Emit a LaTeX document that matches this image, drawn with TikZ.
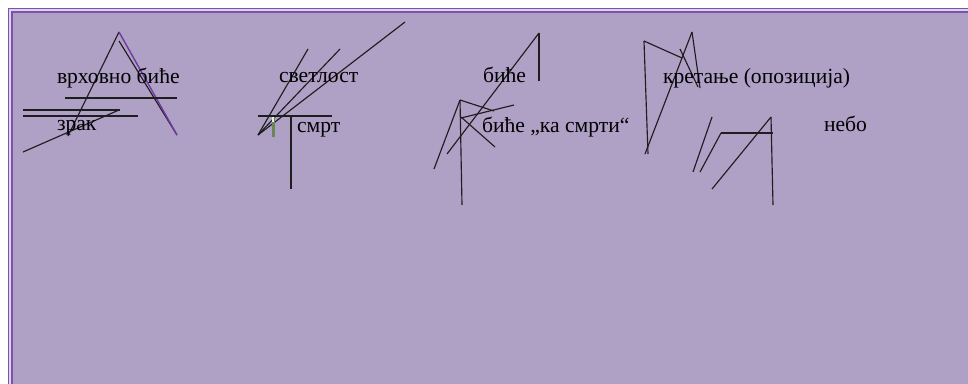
\documentclass[tikz,border=0pt]{standalone}
\usepackage{fontspec}
\setmainfont{Liberation Serif}
\definecolor{bgfill}{RGB}{175,160,198}
\definecolor{bordpurple}{RGB}{122,84,172}
\definecolor{bordlight}{RGB}{222,212,238}
\definecolor{strokepurple}{RGB}{110,60,160}
\definecolor{ink}{RGB}{30,30,30}
\definecolor{barGreen}{RGB}{105,135,85}
\begin{document}
\begin{tikzpicture}[x=1pt,y=-1pt,
  ln/.style={draw=ink,line width=1.15pt},
  lbl/.style={anchor=base west,inner sep=0pt,outer sep=0pt,font=\fontsize{21.6}{25}\selectfont,text=black}]
\useasboundingbox (0,0) rectangle (968,383);
\fill[white] (0,0) rectangle (968,383);
\fill[bordpurple] (8,8) rectangle (970,390);
\fill[bordlight] (9.3,9.3) rectangle (970,390);
\fill[bordpurple] (10.8,10.8) rectangle (970,390);
\fill[bgfill] (12.5,12.5) rectangle (970,390);

% group 1
\draw[ln] (119,32) -- (68,136);
\draw[ln] (119,41) -- (177,135);
\draw[draw=strokepurple,line width=1.4pt] (119,32) -- (177,135);
\draw[ln] (65,98) -- (177,98);
\draw[ln] (23,110) -- (120,110);
\draw[ln] (23,116) -- (138,116);
\draw[ln] (23,152) -- (119,110);
\node[lbl] (t1) at (57,83) {врховно биће};
\node[lbl] (t2) at (57,130) {зрак};

% group 2
\draw[ln] (258,135) -- (308,49);
\draw[ln] (258,135) -- (340,49);
\draw[ln] (258,135) -- (405,22);
\draw[ln] (258,116) -- (332,116);
\draw[ln] (291,116) -- (291,189);
\fill[barGreen] (271.8,117) rectangle (274.6,137);
\fill[white!85!barGreen] (272.3,116.5) rectangle (274.1,121.5);
\node[lbl] (t3) at (279,82) {светлост};
\node[lbl] (t4) at (297,132) {смрт};

% group 3
\draw[ln] (539,33) -- (539,81);
\draw[ln] (539,33) -- (447,154);
\draw[ln] (460,100) -- (462,205);
\draw[ln] (460,100) -- (434,169);
\draw[ln] (460,100) -- (494,111);
\draw[ln] (461,118) -- (514,105);
\draw[ln] (461,117) -- (495,147);
\node[lbl] (t5) at (483,82) {биће};
\node[lbl] (t6) at (482,132) {биће „ка смрти“};

% group 4
\draw[ln] (644,41) -- (648,154);
\draw[ln] (644,41) -- (682,58);
\draw[ln] (692,32) -- (645,154);
\draw[ln] (692,32) -- (700,88);
\draw[ln] (680,49) -- (698,87);
\draw[ln] (712,117) -- (693,172);
\draw[ln] (721,133) -- (700,172);
\draw[ln] (721,133) -- (773,133);
\draw[ln] (771,117) -- (773,205);
\draw[ln] (771,117) -- (712,189);
\node[lbl] (t7) at (663,83) {кретање (опозиција)};
\node[lbl] (t8) at (824,131) {небо};
\end{tikzpicture}
\end{document}
